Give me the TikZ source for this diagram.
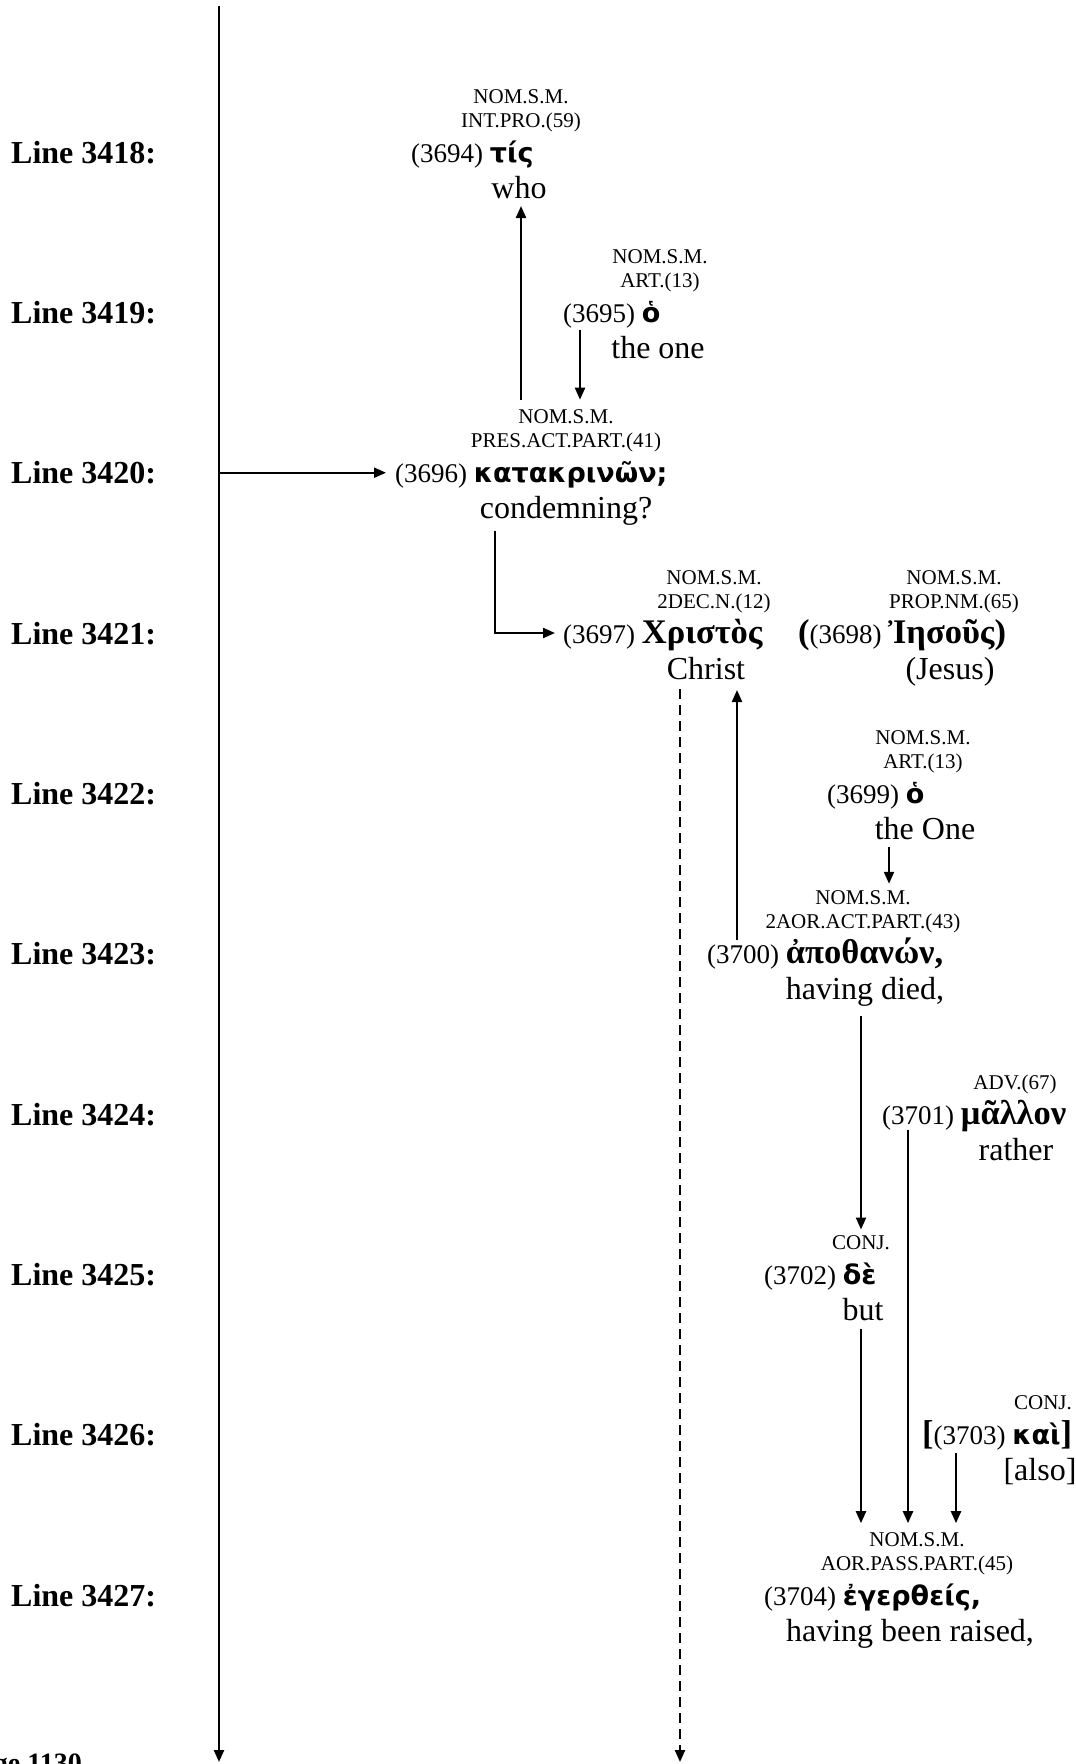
\documentclass[tikz,border=0pt]{standalone}
\usepackage{fontspec}
\setmainfont{Liberation Serif}
\newfontfamily\grs{DejaVu Sans}
\newfontfamily\grr{Liberation Serif}
\usetikzlibrary{arrows.meta,calc}
\newcommand{\GS}[1]{{\grs\bfseries\fontsize{27}{31}\selectfont #1}}
\newcommand{\GR}[1]{{\grr\bfseries\fontsize{34.5}{38}\selectfont #1}}
\begin{document}
\begin{tikzpicture}[x=1pt,y=-1pt,
  lbl/.style={inner sep=0pt, anchor=base west, font=\fontsize{32}{35}\selectfont\bfseries},
  morph/.style={inner sep=0pt, anchor=base, align=center, font=\fontsize{21}{24}\selectfont},
  gl/.style={inner sep=0pt, anchor=base, font=\fontsize{32}{36}\selectfont},
  wd/.style={inner sep=0pt, anchor=base west, font=\fontsize{27}{30}\selectfont},
  arr/.style={line width=2.2pt, -{Triangle[length=12pt,width=10pt]}},
  darr/.style={arr, dash pattern=on 10pt off 6pt}]
\useasboundingbox (0,0) rectangle (1076,1764);
\clip (0,0) rectangle (1076,1764);
% line labels
\foreach \i/\n in {0/3418,1/3419,2/3420,3/3421,4/3422,5/3423,6/3424,7/3425,8/3426,9/3427}{
  \node[lbl] (L\n) at (11,{152+160.35*\i+11}) {Line \n:};
}
\node[lbl, anchor=base east, font=\fontsize{28}{31}\selectfont\bfseries] (page) at (82,1772) {Page 1130};
% main line
\coordinate (top) at (219,6);
\coordinate (bot) at (219,1762);
\coordinate (j3420) at (219,472.7);
\coordinate (dend) at (680,1762);
% words
% 3418
\node[morph] (m3694) at (521,127) {NOM.S.M.\\INT.PRO.(59)};
\node[wd] (n3694) at (411,162) {(3694) \GS{τίς}};
\node[gl] (g3694) at (519,198) {who};
% 3419
\node[morph] (m3695) at (660,287.35) {NOM.S.M.\\ART.(13)};
\node[wd] (n3695) at (563,322.35) {(3695) \GS{ὁ}};
\node[gl] (g3695) at (658,358.35) {the one};
% 3420
\node[morph] (m3696) at (566,447.7) {NOM.S.M.\\PRES.ACT.PART.(41)};
\node[wd] (n3696) at (395,482.7) {(3696) \GS{κατακρινῶν;}};
\node[gl] (g3696) at (566,518.7) {condemning?};
% 3421
\node[morph] (m3697) at (714,608) {NOM.S.M.\\2DEC.N.(12)};
\node[wd] (n3697) at (563,643) {(3697) \GR{Χριστὸς}};
\node[gl] (g3697) at (706,679) {Christ};
\node[morph] (m3698) at (954,608) {NOM.S.M.\\PROP.NM.(65)};
\node[wd] (n3698) at (798,643) {\GR{(}(3698) \GR{Ἰησοῦς)}};
\node[gl] (g3698) at (950,679) {(Jesus)};
% 3422
\node[morph] (m3699) at (923,768.4) {NOM.S.M.\\ART.(13)};
\node[wd] (n3699) at (827,803.4) {(3699) \GS{ὁ}};
\node[gl] (g3699) at (925,839.4) {the One};
% 3423
\node[morph] (m3700) at (863,928.75) {NOM.S.M.\\2AOR.ACT.PART.(43)};
\node[wd] (n3700) at (707,963.75) {(3700) \GR{ἀποθανών,}};
\node[gl] (g3700) at (865,999.75) {having died,};
% 3424
\node[morph] (m3701) at (1015,1089.1) {ADV.(67)};
\node[wd] (n3701) at (882,1124.1) {(3701) \GR{μᾶλλον}};
\node[gl] (g3701) at (1016,1160.1) {rather};
% 3425
\node[morph] (m3702) at (861,1249.5) {CONJ.};
\node[wd] (n3702) at (764,1284.5) {(3702) \GS{δὲ}};
\node[gl] (g3702) at (863,1320.5) {but};
% 3426
\node[morph] (m3703) at (1043,1409.8) {CONJ.};
\node[wd] (n3703) at (922,1444.8) {\GR{[}(3703) \GS{καὶ}\GR{]}};
\node[gl] (g3703) at (1040,1480.8) {[also]};
% 3427
\node[morph] (m3704) at (917,1570.2) {NOM.S.M.\\AOR.PASS.PART.(45)};
\node[wd] (n3704) at (764,1605.2) {(3704) \GS{ἐγερθείς,}};
\node[gl] (g3704) at (910,1641.2) {having been raised,};
% connectors
\draw[arr] (top) -- (bot);
\draw[arr] (j3420) -- ($(n3696.base west)+(-9,-10)$);
\draw[arr] ($(m3696.base)+(-45,-48)$) -- ($(g3694.base)+(2,8)$);
\draw[arr] ($(n3695.base west)+(17,8)$) -- ($(m3696.base)+(14,-48)$);
\draw[arr] ($(g3696.base)+(-71,12)$) |- ($(n3697.base west)+(-8,-10)$);
\draw[darr] ($(g3697.base)+(-26,10)$) -- (dend);
\draw[arr] ($(n3700.base west)+(30,-24)$) -- ($(g3697.base)+(31,11)$);
\draw[arr] ($(g3699.base)+(-36,8)$) -- ($(m3700.base)+(26,-45)$);
\draw[arr] ($(g3700.base)+(-4,16)$) -- ($(m3702.base)+(0,-20)$);
\draw[arr] ($(g3702.base)+(-2,8)$) -- ($(m3704.base)+(-56,-47)$);
\draw[arr] ($(n3701.base west)+(26,6)$) -- ($(m3704.base)+(-9,-47)$);
\draw[arr] ($(n3703.base west)+(34,8)$) -- ($(m3704.base)+(39,-47)$);
\end{tikzpicture}
\end{document}
